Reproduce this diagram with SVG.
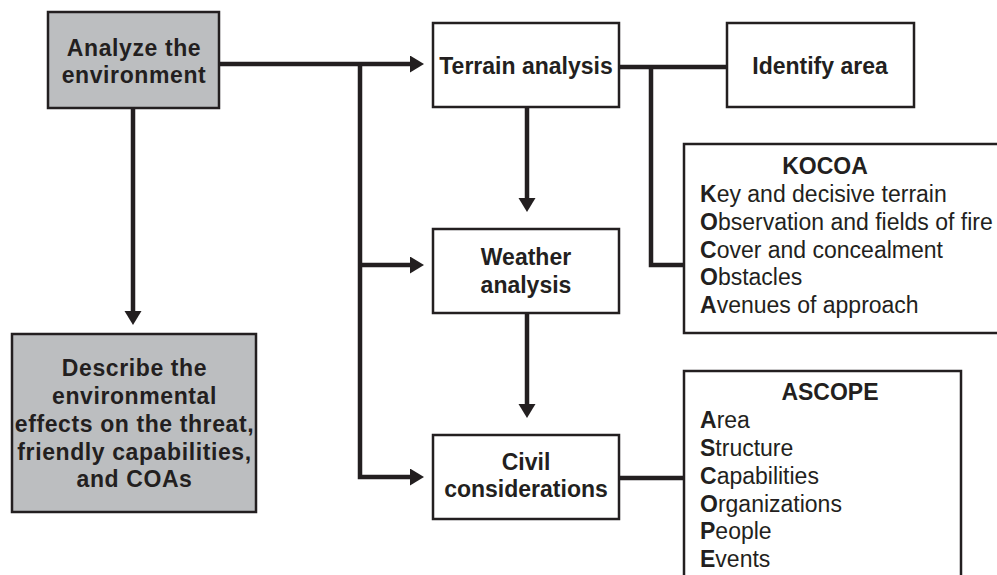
<svg xmlns="http://www.w3.org/2000/svg" width="997" height="575" viewBox="0 0 997 575">
  <style>
    .box { fill: #ffffff; stroke: #231f20; stroke-width: 2.5; }
    .grey { fill: #bcbec0; stroke: #231f20; stroke-width: 2.5; }
    .lbl { font-family: "Liberation Sans", Arial, sans-serif; font-size: 23px; font-weight: bold; fill: #231f20; text-anchor: middle; }
    .wide { letter-spacing: 0.6px; }
    .item { font-family: "Liberation Sans", Arial, sans-serif; font-size: 23px; fill: #231f20; }
    .item tspan.k { font-weight: bold; }
    .wire { fill: none; stroke: #231f20; stroke-width: 4.5; stroke-linejoin: miter; stroke-linecap: butt; }
  </style>
  <defs>
    <marker id="arrow" markerUnits="userSpaceOnUse" markerWidth="16" markerHeight="18" refX="4" refY="8.5" orient="auto">
      <path d="M0,0 L14,8.5 L0,17 Z" fill="#231f20"/>
    </marker>
  </defs>

  <rect width="997" height="575" fill="#ffffff"/>

  <!-- connectors -->
  <g id="connectors">
    <path class="wire" d="M219,64 H414" marker-end="url(#arrow)"/>
    <path class="wire" d="M360,64 V477 H414" marker-end="url(#arrow)"/>
    <path class="wire" d="M360,265 H414" marker-end="url(#arrow)"/>
    <path class="wire" d="M133,108 V315" marker-end="url(#arrow)"/>
    <path class="wire" d="M527,107 V202" marker-end="url(#arrow)"/>
    <path class="wire" d="M527,313 V408" marker-end="url(#arrow)"/>
    <path class="wire" d="M619,67 H727"/>
    <path class="wire" d="M651,67 V265 H684"/>
    <path class="wire" d="M619,478 H684"/>
  </g>

  <g id="analyze">
    <rect class="grey" x="48" y="12" width="171" height="96"/>
    <text class="lbl wide" x="134" y="56">Analyze the</text>
    <text class="lbl wide" x="134" y="83">environment</text>
  </g>

  <g id="describe">
    <rect class="grey" x="12" y="334" width="244" height="178"/>
    <text class="lbl wide" x="134.5" y="376">Describe the</text>
    <text class="lbl wide" x="134.5" y="404">environmental</text>
    <text class="lbl wide" x="134.5" y="432">effects on the threat,</text>
    <text class="lbl wide" x="134.5" y="460">friendly capabilities,</text>
    <text class="lbl wide" x="134.5" y="487">and COAs</text>
  </g>

  <g id="terrain">
    <rect class="box" x="433" y="23" width="186" height="84"/>
    <text class="lbl" x="526" y="74">Terrain analysis</text>
  </g>

  <g id="identify">
    <rect class="box" x="727" y="23" width="187" height="84"/>
    <text class="lbl" x="820" y="74">Identify area</text>
  </g>

  <g id="weather">
    <rect class="box" x="433" y="229" width="186" height="84"/>
    <text class="lbl" x="526" y="265">Weather</text>
    <text class="lbl" x="526" y="293">analysis</text>
  </g>

  <g id="civil">
    <rect class="box" x="433" y="435" width="186" height="84"/>
    <text class="lbl" x="526" y="470">Civil</text>
    <text class="lbl" x="526" y="497">considerations</text>
  </g>

  <g id="kocoa">
    <rect class="box" x="684" y="144" width="330" height="189"/>
    <text class="lbl" x="825" y="174">KOCOA</text>
    <text class="item" x="700" y="202"><tspan class="k">K</tspan>ey and decisive terrain</text>
    <text class="item" x="700" y="230"><tspan class="k">O</tspan>bservation and fields of fire</text>
    <text class="item" x="700" y="258"><tspan class="k">C</tspan>over and concealment</text>
    <text class="item" x="700" y="285"><tspan class="k">O</tspan>bstacles</text>
    <text class="item" x="700" y="313"><tspan class="k">A</tspan>venues of approach</text>
  </g>

  <g id="ascope">
    <rect class="box" x="684" y="371" width="277" height="230"/>
    <text class="lbl" x="830" y="400">ASCOPE</text>
    <text class="item" x="700" y="428"><tspan class="k">A</tspan>rea</text>
    <text class="item" x="700" y="456"><tspan class="k">S</tspan>tructure</text>
    <text class="item" x="700" y="484"><tspan class="k">C</tspan>apabilities</text>
    <text class="item" x="700" y="512"><tspan class="k">O</tspan>rganizations</text>
    <text class="item" x="700" y="539"><tspan class="k">P</tspan>eople</text>
    <text class="item" x="700" y="567"><tspan class="k">E</tspan>vents</text>
  </g>
</svg>
